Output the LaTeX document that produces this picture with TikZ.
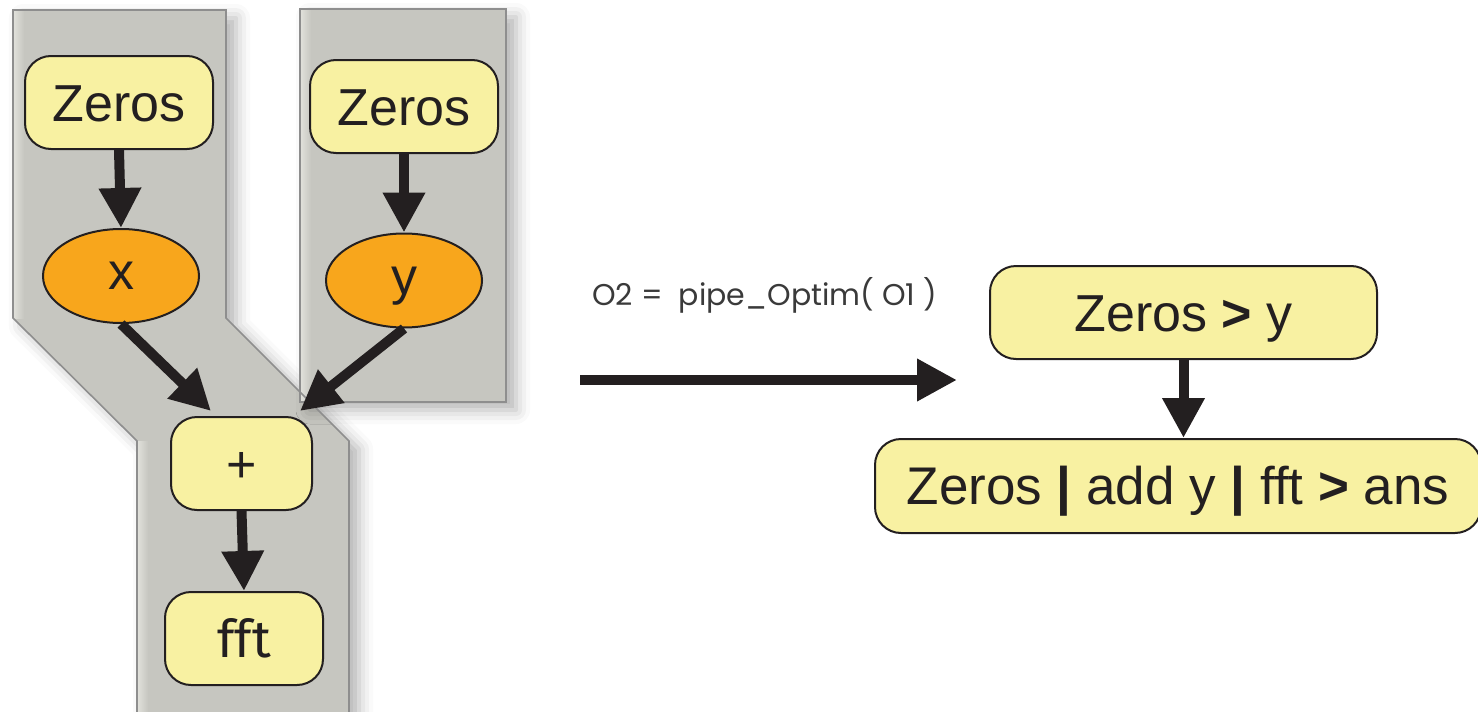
\documentclass[tikz,border=0pt]{standalone}
\usepackage{fontspec}
\setmainfont{Liberation Sans}
\newfontfamily\humfont{Fira Sans}
\newfontfamily\geofont{Poppins}
\usetikzlibrary{arrows.meta,shapes.geometric,shadows.blur,calc}
\definecolor{boxyellow}{HTML}{F8F1A2}
\definecolor{nodeorange}{HTML}{F8A61C}
\definecolor{bandgray}{HTML}{C6C6C0}
\definecolor{bandlight}{HTML}{E2E2DC}
\definecolor{bandedge}{HTML}{8E8E8E}
\definecolor{inkdark}{HTML}{231F20}
\definecolor{labelgray}{HTML}{3A3A3A}
\begin{document}
\begin{tikzpicture}[x=0.5pt,y=-0.5pt,
  box/.style={draw=inkdark, line width=1pt, fill=boxyellow, rounded corners=13pt,
    minimum height=46.5pt, inner sep=0pt, text=inkdark,
    font=\fontsize{26}{30}\selectfont, text height=18.6pt, text depth=0pt},
  humbox/.style={box, font=\humfont\fontsize{26}{30}\selectfont},
  oval/.style={ellipse, draw=inkdark, line width=1pt, fill=nodeorange,
    minimum width=78pt, minimum height=47pt, inner sep=0pt, text=inkdark,
    font=\fontsize{26}{30}\selectfont, text height=13.5pt, text depth=0pt},
  bandfill/.style={fill=bandgray,
    blur shadow={shadow xshift=5pt, shadow yshift=-4pt, shadow blur radius=7pt,
      shadow opacity=30}},
  bandline/.style={draw=bandedge, line width=0.8pt},
  edgeglow/.style={left color=bandlight, right color=bandgray},
  arr/.style={draw=inkdark, line width=5pt, -{Triangle[width=20pt,length=20pt]}},
]
\useasboundingbox (0,0) rectangle (1478,712);
\clip (0,0) rectangle (1478,712);

% gray bands
\path[bandfill] (13,10) -- (226,10) -- (226,318) -- (349,441) -- (349,740)
  -- (137,740) -- (137,441) -- (13,318) -- cycle;
\path[bandfill] (300,9) rectangle (506,402);
\shade[edgeglow] (13,10) rectangle (24,318);
\shade[edgeglow] (137,441) rectangle (148,740);
\shade[edgeglow] (300,9) rectangle (311,402);
\path[bandline] (13,10) -- (226,10) -- (226,318) -- (349,441) -- (349,740)
  -- (137,740) -- (137,441) -- (13,318) -- cycle;
\path[bandline] (300,9) rectangle (506,402);

% nodes
\node[box, minimum width=94pt] (z1) at (119,102.5) {Zeros};
\node[box, minimum width=94pt] (z2) at (404,106.5) {Zeros};
\node[oval] (x) at (121,276) {x};
\node[oval] (y) at (404,280.5) {y};
\node[box, minimum width=70.5pt] (plus) at (241.5,463.5) {+};
\node[humbox, minimum width=79pt] (fft) at (244,638.5) {fft};

\node[box, minimum width=193.5pt] (tr) at (1183.5,312.5) {Zeros \textbf{>} y};
\node[box, minimum width=303pt, minimum height=47pt,
  font=\fontsize{26.5}{30}\selectfont] (br) at (1178,486)
  {Zeros \textbf{|} add y \textbf{|} fft \textbf{>} ans};

% connectors
\draw[arr] (z1.south) -- (x.north);
\draw[arr] (z2.south) -- (y.north);
\draw[arr] (x.south) -- ([xshift=20.5pt,yshift=2.5pt]plus.north west);
\draw[arr] (y.south) -- ([xshift=-6.5pt,yshift=2.5pt]plus.north east);
\draw[arr] (plus.south) -- (fft.north);
\draw[arr] (tr.south) -- (tr.south |- br.north);

% transformation arrow
\coordinate (bs) at (580,380);
\coordinate (be) at (957,380);
\draw[arr] (bs) -- (be);
\node[anchor=base west, inner sep=0pt, text=labelgray,
  font=\geofont\fontsize{15}{18}\selectfont] (lbl) at (592,305)
  {O2 =\ \ pipe\_Optim( O1 )};
\end{tikzpicture}
\end{document}
